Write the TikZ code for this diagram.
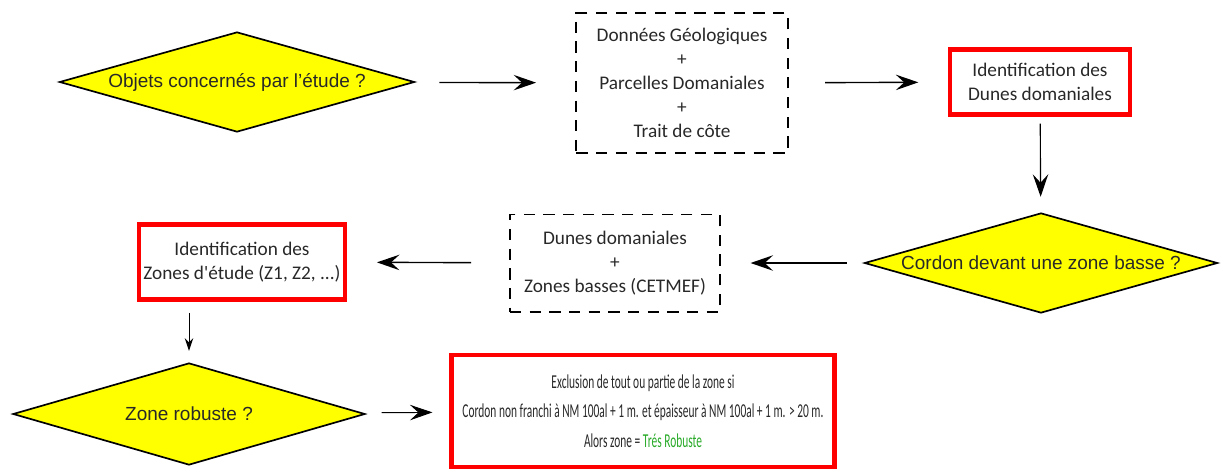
\documentclass[tikz,border=0pt]{standalone}
\usepackage{fontspec}
\setmainfont{Liberation Sans}
\newfontfamily\boxfont{Carlito}
\newfontfamily\narrowfont[FakeStretch=0.58]{Carlito}
\usetikzlibrary{shapes.geometric,arrows.meta}
\definecolor{qyellow}{RGB}{255,255,0}
\definecolor{qgreen}{RGB}{40,170,40}
\definecolor{qtext}{RGB}{40,40,40}
\tikzset{
  question/.style={diamond,aspect=3.5,draw,line width=1.2pt,fill=qyellow,inner sep=0pt,
    text=qtext,font=\fontsize{13.5}{16}\selectfont},
  databox/.style={draw,line width=1.4pt,dash pattern=on 8pt off 6pt,align=center,
    text=qtext,font=\fontsize{13.7}{17}\boxfont},
  resultbox/.style={draw=red,line width=3pt,align=center,text=qtext,
    font=\fontsize{13.7}{17}\boxfont},
  flow/.style={-{Stealth[length=16pt,width=11pt,inset=6pt]},line width=1pt},
  smallflow/.style={-{Stealth[length=9pt,width=6pt,inset=3pt]},line width=0.7pt}
}

\begin{document}
\begin{tikzpicture}[x=0.025cm,y=-0.025cm]
  \useasboundingbox (0,0) rectangle (1221,475);
  \node[question,minimum width=8.875cm,minimum height=2.5cm] (objets) at (237,82) {Objets concernés par l'étude ?};
  \node[databox,minimum width=5.275cm,minimum height=3.5cm] (donnees) at (682,83) {Données Géologiques\\+\\Parcelles Domaniales\\+\\Trait de côte};
  \node[resultbox,minimum width=4.5cm,minimum height=1.625cm] (dunes) at (1040,82) {Identification des\\Dunes domaniales};
  \node[question,minimum width=8.825cm,minimum height=2.5cm] (cordon) at (1041,263) {Cordon devant une zone basse ?};
  \node[databox,minimum width=5.25cm,minimum height=2.425cm] (basses) at (615,263) {Dunes domaniales\\+\\Zones basses (CETMEF)};
  \node[resultbox,minimum width=5.125cm,minimum height=1.875cm] (zones) at (242,262) {Identification des\\Zones d'étude (Z1, Z2, ...)};
  \node[question,minimum width=8.8cm,minimum height=2.55cm] (robuste) at (189,414) {Zone robuste ?};
  \node[resultbox,minimum width=9.575cm,minimum height=2.8cm,font=\fontsize{14}{21}\narrowfont] (exclusion) at (643,411)
    {Exclusion de tout ou partie de la zone si\\Cordon non franchi à NM 100al + 1 m. et épaisseur à NM 100al + 1 m. > 20 m.\\Alors zone = \textcolor{qgreen}{Trés Robuste}};

  \draw[flow,shorten <=18pt,shorten >=28pt] (objets) -- (donnees);
  \draw[flow,shorten <=26pt,shorten >=21pt] (donnees) -- (dunes);
  \draw[flow,line width=0.8pt,shorten <=5pt,shorten >=11pt] (dunes) -- (cordon);
  \draw[flow,shorten <=12pt,shorten >=21pt] (cordon) -- (basses);
  \draw[flow,shorten <=27pt,shorten >=21pt] (basses) -- (zones);
  \draw[smallflow,shorten <=8pt,shorten >=8pt] (zones.south -| robuste) -- (robuste);
  \draw[flow,line width=0.7pt,shorten <=14pt,shorten >=12pt] (robuste) -- (exclusion);
\end{tikzpicture}
\end{document}
